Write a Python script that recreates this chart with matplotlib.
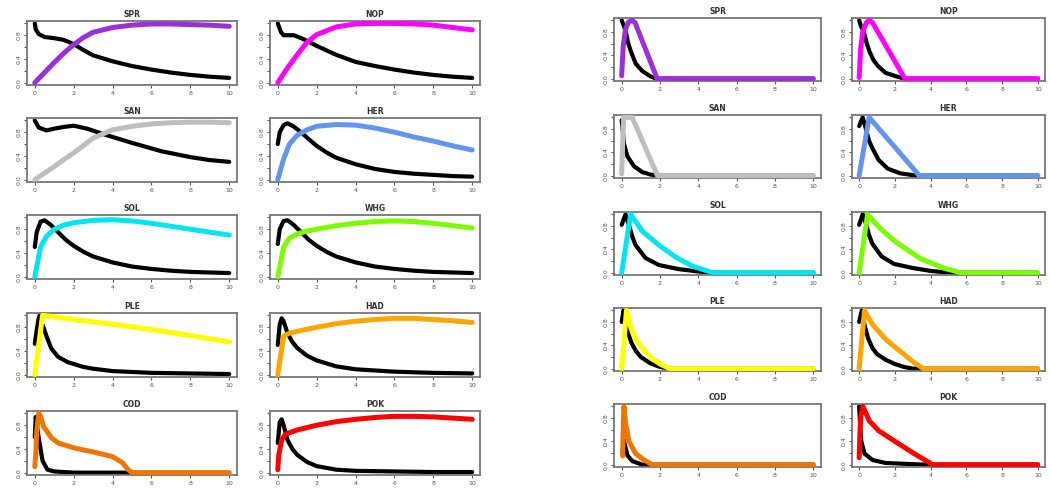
import matplotlib
matplotlib.use("Agg")
import matplotlib.pyplot as plt

W, H = 1051, 494

# ---- left block: panel titles, colours ----
left_titles = ["SPR", "NOP", "SAN", "HER", "SOL", "WHG", "PLE", "HAD", "COD", "POK"]
colours = ["#9b30d9", "#ff00ff", "#bebebe", "#6495ed", "#00e5ee",
           "#7cfc00", "#ffff00", "#ffa500", "#ee7600", "#ff0000"]

# ---- left block curves (x, black, x, coloured) ----
spr_lx_k = [0, 0.05, 0.2, 0.5, 1, 1.5, 2, 2.5, 3, 4, 5, 6, 7, 8, 9, 10]
spr_l_k = [1.0, 0.9, 0.82, 0.77, 0.75, 0.72, 0.65, 0.55, 0.46, 0.36, 0.28, 0.22, 0.17, 0.13, 0.1, 0.08]
spr_lx_c = [0, 0.5, 1, 1.5, 2, 2.5, 3, 4, 5, 6, 7, 8, 9, 10]
spr_l_c = [0, 0.17, 0.34, 0.5, 0.64, 0.76, 0.85, 0.93, 0.97, 0.99, 0.99, 0.98, 0.97, 0.95]

nop_lx_k = [0, 0.17, 0.3, 0.83, 1.35, 2, 3, 4, 5, 6, 7, 8, 9, 10]
nop_l_k = [1.0, 0.85, 0.8, 0.8, 0.73, 0.62, 0.47, 0.35, 0.28, 0.22, 0.17, 0.13, 0.1, 0.08]
nop_lx_c = [0, 0.5, 1, 1.5, 2, 3, 4, 5, 6, 7, 8, 9, 10]
nop_l_c = [0, 0.25, 0.47, 0.68, 0.81, 0.94, 0.99, 1.0, 1.0, 0.99, 0.97, 0.93, 0.89]

san_lx_k = [0, 0.2, 0.6, 1, 1.5, 2, 2.7, 3.5, 5, 6.5, 8, 9, 10]
san_l_k = [1.0, 0.88, 0.83, 0.86, 0.89, 0.91, 0.86, 0.77, 0.62, 0.48, 0.38, 0.33, 0.3]
san_lx_c = [0, 0.5, 1, 1.5, 2, 3, 4, 5, 6, 7, 8, 9, 10]
san_l_c = [0, 0.11, 0.22, 0.34, 0.45, 0.7, 0.84, 0.9, 0.94, 0.96, 0.97, 0.97, 0.96]

her_lx_k = [0, 0.1, 0.3, 0.5, 0.8, 1.2, 1.6, 2, 2.5, 3, 4, 5, 6, 7, 8, 9, 10]
her_l_k = [0.6, 0.8, 0.92, 0.95, 0.9, 0.8, 0.68, 0.57, 0.46, 0.37, 0.26, 0.18, 0.13, 0.1, 0.08, 0.06, 0.05]
her_lx_c = [0, 0.3, 0.6, 1, 1.5, 2, 3, 4, 5, 6, 7, 8, 9, 10]
her_l_c = [0, 0.35, 0.6, 0.75, 0.84, 0.9, 0.93, 0.92, 0.87, 0.8, 0.72, 0.65, 0.57, 0.5]

sol_lx_k = [0, 0.1, 0.3, 0.5, 0.8, 1.2, 1.6, 2, 2.5, 3, 4, 5, 6, 7, 8, 9, 10]
sol_l_k = [0.5, 0.75, 0.93, 0.95, 0.88, 0.75, 0.62, 0.52, 0.42, 0.34, 0.24, 0.17, 0.13, 0.1, 0.08, 0.07, 0.06]
sol_lx_c = [0, 0.3, 0.6, 1, 1.5, 2, 3, 4, 5, 6, 7, 8, 9, 10]
sol_l_c = [0, 0.5, 0.68, 0.8, 0.87, 0.91, 0.95, 0.96, 0.94, 0.9, 0.85, 0.8, 0.75, 0.7]

whg_lx_k = [0, 0.1, 0.3, 0.5, 0.8, 1.2, 1.6, 2, 2.5, 3, 4, 5, 6, 7, 8, 9, 10]
whg_l_k = [0.55, 0.8, 0.94, 0.95, 0.88, 0.75, 0.62, 0.52, 0.42, 0.34, 0.24, 0.17, 0.13, 0.1, 0.08, 0.07, 0.06]
whg_lx_c = [0, 0.3, 0.6, 1, 1.5, 2, 3, 4, 5, 6, 7, 8, 9, 10]
whg_l_c = [0, 0.5, 0.65, 0.72, 0.77, 0.8, 0.86, 0.9, 0.93, 0.94, 0.93, 0.9, 0.86, 0.82]

ple_lx_k = [0, 0.1, 0.2, 0.25, 0.3, 0.45, 0.6, 0.85, 1.2, 1.7, 2.5, 3, 4, 6, 8, 10]
ple_l_k = [0.52, 0.75, 0.95, 1.0, 0.9, 0.8, 0.65, 0.44, 0.3, 0.21, 0.13, 0.1, 0.06, 0.03, 0.02, 0.01]
ple_lx_c = [0, 0.4, 2, 4, 6, 8, 10]
ple_l_c = [0, 1.0, 0.93, 0.85, 0.76, 0.66, 0.55]

had_lx_k = [0, 0.1, 0.2, 0.3, 0.5, 0.75, 1, 1.5, 2, 3, 4, 6, 8, 10]
had_l_k = [0.5, 0.85, 0.95, 0.9, 0.7, 0.55, 0.45, 0.32, 0.24, 0.14, 0.09, 0.05, 0.03, 0.02]
had_lx_c = [0, 0.3, 0.6, 1, 2, 3, 4, 5, 6, 7, 8, 9, 10]
had_l_c = [0, 0.65, 0.7, 0.73, 0.8, 0.86, 0.9, 0.93, 0.95, 0.95, 0.93, 0.91, 0.88]

cod_lx_k = [0, 0.05, 0.15, 0.25, 0.4, 0.65, 1, 1.5, 2, 3, 5]
cod_l_k = [0.6, 0.94, 0.7, 0.49, 0.2, 0.05, 0.02, 0.01, 0, 0, 0]
cod_lx_c = [0, 0.05, 0.1, 0.2, 0.3, 0.45, 0.85, 1.2, 1.7, 2.1, 3, 4, 4.5, 4.8, 5, 10]
cod_l_c = [0.1, 0.3, 0.7, 1.0, 0.95, 0.78, 0.59, 0.5, 0.45, 0.41, 0.35, 0.27, 0.17, 0.05, 0, 0]

pok_lx_k = [0, 0.1, 0.2, 0.3, 0.5, 0.75, 1, 1.5, 2, 3, 4, 6, 8, 10]
pok_l_k = [0.5, 0.85, 0.9, 0.8, 0.55, 0.4, 0.3, 0.18, 0.11, 0.05, 0.03, 0.02, 0.01, 0.01]
pok_lx_c = [0, 0.05, 0.2, 0.4, 1, 2, 3, 4, 5, 6, 7, 8, 9, 10]
pok_l_c = [0.05, 0.3, 0.55, 0.65, 0.72, 0.8, 0.86, 0.9, 0.93, 0.95, 0.95, 0.94, 0.92, 0.9]

# ---- right block curves ----
spr_rx_k = [0, 0.1, 0.2, 0.35, 0.5, 0.73, 1.08, 1.5, 1.8, 10]
spr_r_k = [1.0, 0.92, 0.82, 0.6, 0.45, 0.26, 0.13, 0.04, 0, 0]
spr_rx_c = [0, 0.08, 0.2, 0.35, 0.55, 0.7, 1.85, 10]
spr_r_c = [0.05, 0.55, 0.85, 0.97, 1.0, 0.96, 0, 0]

nop_rx_k = [0, 0.1, 0.26, 0.43, 0.6, 0.8, 1.04, 1.48, 2.17, 2.6, 10]
nop_r_k = [1.0, 0.9, 0.8, 0.6, 0.45, 0.32, 0.22, 0.1, 0.03, 0, 0]
nop_rx_c = [0, 0.08, 0.2, 0.4, 0.57, 0.75, 2.56, 10]
nop_r_c = [0.02, 0.5, 0.8, 0.96, 1.0, 0.96, 0, 0]

san_rx_k = [0, 0.05, 0.12, 0.3, 0.65, 1.08, 1.5, 1.85, 10]
san_r_k = [0.95, 0.8, 0.55, 0.33, 0.16, 0.06, 0.02, 0, 0]
san_rx_c = [0, 0.1, 0.55, 1.87, 10]
san_r_c = [0.03, 1.0, 1.0, 0, 0]

her_rx_k = [0, 0.1, 0.2, 0.38, 0.55, 0.74, 1.09, 1.6, 2.3, 3.2, 10]
her_r_k = [0.85, 0.93, 1.0, 0.8, 0.6, 0.47, 0.27, 0.12, 0.04, 0, 0]
her_rx_c = [0, 0.56, 3.37, 10]
her_r_c = [0, 1.0, 0, 0]

sol_rx_k = [0, 0.2, 0.38, 0.55, 0.73, 1.25, 1.95, 3.0, 4.0, 4.6, 10]
sol_r_k = [0.82, 1.0, 0.82, 0.62, 0.47, 0.25, 0.13, 0.06, 0.02, 0, 0]
sol_rx_c = [0, 0.47, 1.08, 1.95, 2.8, 3.7, 4.75, 10]
sol_r_c = [0, 1.0, 0.71, 0.47, 0.27, 0.11, 0, 0]

whg_rx_k = [0, 0.2, 0.38, 0.55, 0.73, 1.25, 1.95, 3.0, 4.0, 5.0, 10]
whg_r_k = [0.82, 1.0, 0.84, 0.65, 0.5, 0.28, 0.15, 0.08, 0.03, 0, 0]
whg_rx_c = [0, 0.47, 1.17, 2.03, 3.43, 4.8, 5.7, 10]
whg_r_c = [0, 1.0, 0.76, 0.53, 0.24, 0.07, 0, 0]

ple_rx_k = [0, 0.1, 0.2, 0.35, 0.5, 0.75, 1, 1.5, 2, 2.5, 10]
ple_r_k = [0.8, 1.0, 0.8, 0.6, 0.45, 0.3, 0.2, 0.09, 0.03, 0, 0]
ple_rx_c = [0, 0.25, 0.5, 0.75, 1, 1.3, 1.6, 2, 2.5, 10]
ple_r_c = [0, 1.0, 0.68, 0.5, 0.38, 0.27, 0.17, 0.08, 0, 0]

had_rx_k = [0, 0.15, 0.3, 0.5, 0.75, 1, 1.5, 2, 2.5, 3, 10]
had_r_k = [0.8, 1.0, 0.75, 0.52, 0.35, 0.25, 0.15, 0.08, 0.03, 0, 0]
had_rx_c = [0, 0.3, 0.5, 0.8, 1.2, 1.5, 2, 2.5, 3, 3.6, 10]
had_r_c = [0, 1.0, 0.88, 0.74, 0.6, 0.5, 0.37, 0.25, 0.12, 0, 0]

cod_rx_k = [0.05, 0.1, 0.3, 0.56, 1.08, 10]
cod_r_k = [0.2, 0.43, 0.16, 0.06, 0, 0]
cod_rx_c = [0.05, 0.08, 0.12, 0.2, 0.38, 0.73, 1.08, 1.43, 1.6, 10]
cod_r_c = [0.15, 0.6, 1.0, 0.72, 0.4, 0.19, 0.1, 0.03, 0, 0]

pok_rx_k = [0, 0.05, 0.12, 0.3, 0.75, 1.46, 2.9, 3.8, 10]
pok_r_k = [1.0, 0.7, 0.4, 0.19, 0.08, 0.03, 0.01, 0, 0]
pok_rx_c = [0, 0.05, 0.1, 0.21, 0.57, 1.1, 2.0, 3.07, 3.96, 4.05, 10]
pok_r_c = [0.12, 0.6, 0.85, 1.0, 0.75, 0.58, 0.4, 0.19, 0.03, 0, 0]

left_curves = [
    (spr_lx_k, spr_l_k, spr_lx_c, spr_l_c), (nop_lx_k, nop_l_k, nop_lx_c, nop_l_c),
    (san_lx_k, san_l_k, san_lx_c, san_l_c), (her_lx_k, her_l_k, her_lx_c, her_l_c),
    (sol_lx_k, sol_l_k, sol_lx_c, sol_l_c), (whg_lx_k, whg_l_k, whg_lx_c, whg_l_c),
    (ple_lx_k, ple_l_k, ple_lx_c, ple_l_c), (had_lx_k, had_l_k, had_lx_c, had_l_c),
    (cod_lx_k, cod_l_k, cod_lx_c, cod_l_c), (pok_lx_k, pok_l_k, pok_lx_c, pok_l_c),
]
right_curves = [
    (spr_rx_k, spr_r_k, spr_rx_c, spr_r_c), (nop_rx_k, nop_r_k, nop_rx_c, nop_r_c),
    (san_rx_k, san_r_k, san_rx_c, san_r_c), (her_rx_k, her_r_k, her_rx_c, her_r_c),
    (sol_rx_k, sol_r_k, sol_rx_c, sol_r_c), (whg_rx_k, whg_r_k, whg_rx_c, whg_r_c),
    (ple_rx_k, ple_r_k, ple_rx_c, ple_r_c), (had_rx_k, had_r_k, had_rx_c, had_r_c),
    (cod_rx_k, cod_r_k, cod_rx_c, cod_r_c), (pok_rx_k, pok_r_k, pok_rx_c, pok_r_c),
]

x_ticks = [0, 2, 4, 6, 8, 10]
y_ticks = [0.0, 0.2, 0.4, 0.6, 0.8, 1.0]
y_labels = ["0.0", "", "0.4", "", "0.8", ""]


def panel(fig, left, top, w, h, title, curve, colour, lw_k=3.0, lw_c=3.6):
    # pixel box -> figure fraction
    ax = fig.add_axes([left / W, 1 - (top + h) / H, w / W, h / H])
    xk, yk, xc, yc = curve
    ax.plot(xk, yk, color="black", lw=lw_k, solid_capstyle="round", zorder=2)
    ax.plot(xc, yc, color=colour, lw=lw_c, solid_capstyle="round", zorder=3)
    ax.set_xlim(-0.4, 10.4)
    ax.set_ylim(-0.04, 1.04)
    ax.set_xticks(x_ticks)
    ax.set_xticklabels([str(t) for t in x_ticks])
    ax.set_yticks(y_ticks)
    ax.set_yticklabels(y_labels, rotation=90, va="center")
    ax.tick_params(labelsize=4.5, length=2.5, width=0.8, pad=1.5,
                   colors="#555555")
    for s in ax.spines.values():
        s.set_color("#777777")
        s.set_linewidth(1.3)
    ax.set_title(title, fontsize=5.5, fontweight="bold", pad=3, color="#333333")
    return ax


fig = plt.figure(figsize=(W / 100, H / 100), dpi=100)

left_cols = [27, 270]
left_tops = [21, 118, 215, 313, 411]
right_cols = [614, 852]
right_widths = [207, 193]
right_tops = [18, 115, 212, 308, 404]

for i, name in enumerate(left_titles):
    r, c = divmod(i, 2)
    panel(fig, left_cols[c], left_tops[r], 210, 64, name, left_curves[i], colours[i])
    panel(fig, right_cols[c], right_tops[r], right_widths[c], 63, name,
          right_curves[i], colours[i])

fig.savefig("out.png", dpi=100)
